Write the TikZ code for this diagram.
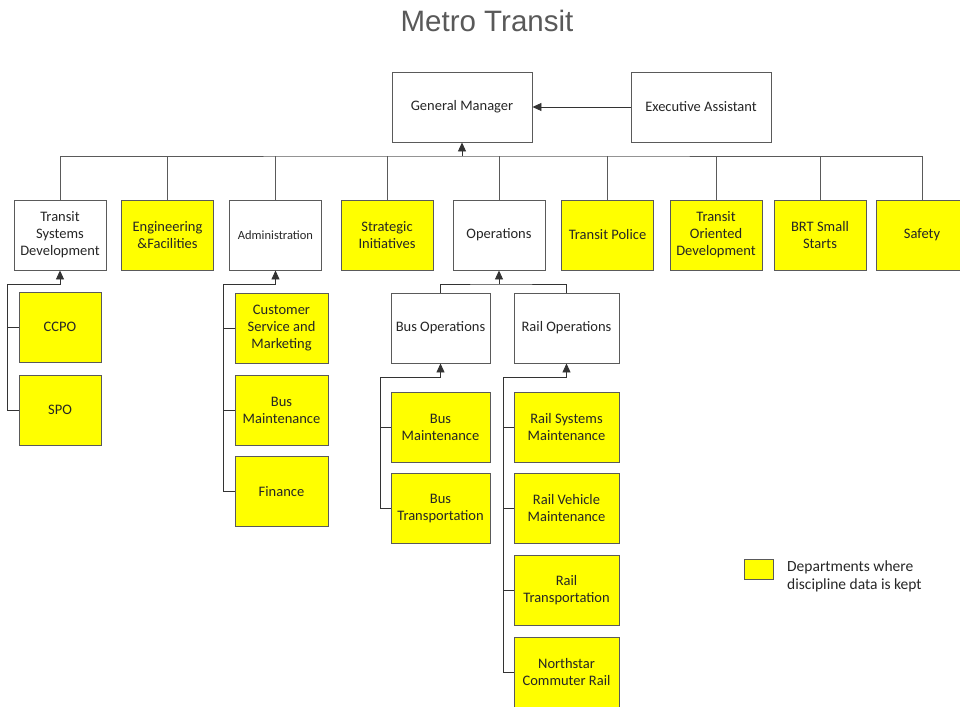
\documentclass[tikz,border=0pt]{standalone}
\usepackage{fontspec}
\setmainfont{Carlito}
\newfontfamily\titlefont{Liberation Sans}
\usetikzlibrary{arrows.meta}
\definecolor{ylw}{RGB}{255,255,0}
\definecolor{bord}{RGB}{90,90,90}
\definecolor{titlegray}{RGB}{89,89,89}
\tikzset{
  box/.style={draw=bord, line width=0.9pt, rectangle, align=center, inner sep=2pt, font=\fontsize{14.5}{17}\selectfont, text=black!85},
  wbox/.style={box, fill=white},
  ybox/.style={box, fill=ylw},
  lvl/.style={minimum width=92pt, minimum height=70pt},
  sub/.style={minimum width=99pt, minimum height=70pt},
  line/.style={draw=bord, line width=0.9pt},
  cline/.style={draw=black!80, line width=0.9pt},
  arr/.style={cline, -{Triangle[width=8pt,length=9pt]}}
}
\begin{document}
\begin{tikzpicture}[x=1pt,y=-1pt]
\useasboundingbox (0,0) rectangle (960,706);
\clip (0,0) rectangle (960,706);
\node[font=\titlefont\fontsize{29.5}{34}\selectfont, text=titlegray] (title) at (487,21) {Metro Transit};

\node[wbox, minimum width=140pt, minimum height=70pt] (gm) at (462,107) {General Manager};
\node[wbox, minimum width=140pt, minimum height=70pt] (ea) at (701,107) {Executive Assistant};
\draw[arr] (ea.west) -- (gm.east);

% level 2
\node[wbox, lvl] (tsd) at (60,235) {Transit\\Systems\\Development};
\node[ybox, lvl] (eng) at (167.5,235) {Engineering\\\&Facilities};
\node[wbox, lvl, font=\fontsize{12.5}{15}\selectfont] (adm) at (275.5,235) {Administration};
\node[ybox, lvl] (strat) at (387,235) {Strategic\\Initiatives};
\node[wbox, lvl] (ops) at (499,235) {Operations};
\node[ybox, lvl] (police) at (607.5,235) {Transit Police};
\node[ybox, lvl] (tod) at (716,235) {Transit\\Oriented\\Development};
\node[ybox, lvl] (brt) at (820,235) {BRT Small\\Starts};
\node[ybox, lvl] (safety) at (922,235) {Safety};

\coordinate (bus) at (462,156);
\draw[line] (tsd.north) |- (bus) -| (safety.north);
\foreach \n in {eng,adm,strat,ops,police,tod,brt}
  \draw[line] (\n.north) -- (\n.north |- bus);
\draw[arr] (bus) -- (gm.south);

% TSD children
\node[ybox, minimum width=82pt, minimum height=70pt] (ccpo) at (60,327) {CCPO};
\node[ybox, minimum width=82pt, minimum height=70pt] (spo) at (60,410) {SPO};
\coordinate (tsdj) at (7,284);
\draw[arr] (spo.west) -| (tsdj) -| (tsd.south);
\draw[cline] (ccpo.west) -- (ccpo.west -| tsdj);

% Admin children
\node[ybox, minimum width=93pt, minimum height=70pt] (csm) at (281.5,328) {Customer\\Service and\\Marketing};
\node[ybox, minimum width=93pt, minimum height=70pt] (abm) at (281.5,410) {Bus\\Maintenance};
\node[ybox, minimum width=93pt, minimum height=70pt] (fin) at (281.5,491.5) {Finance};
\coordinate (admj) at (223,284);
\draw[arr] (fin.west) -| (admj) -| (adm.south);
\draw[cline] (csm.west) -- (csm.west -| admj);
\draw[cline] (abm.west) -- (abm.west -| admj);

% Operations children
\node[wbox, sub] (busops) at (440.5,328) {Bus Operations};
\node[wbox, minimum width=105pt, minimum height=70pt] (railops) at (566.5,328) {Rail Operations};
\coordinate (opsj) at (499,284);
\draw[cline] (busops.north) |- (opsj) -| (railops.north);
\draw[arr] (opsj) -- (ops.south);

% Bus ops children
\node[ybox, sub] (bm) at (440.5,427) {Bus\\Maintenance};
\node[ybox, sub] (bt) at (440.5,508.5) {Bus\\Transportation};
\coordinate (busj) at (380,377);
\draw[arr] (bt.west) -| (busj) -| (busops.south);
\draw[cline] (bm.west) -- (bm.west -| busj);

% Rail ops children
\node[ybox, minimum width=105pt, minimum height=70pt] (rsm) at (566.5,427) {Rail Systems\\Maintenance};
\node[ybox, minimum width=105pt, minimum height=70pt] (rvm) at (566.5,508.5) {Rail Vehicle\\Maintenance};
\node[ybox, minimum width=105pt, minimum height=70pt] (rt) at (566.5,590.5) {Rail\\Transportation};
\node[ybox, minimum width=105pt, minimum height=70pt] (ns) at (566.5,672) {Northstar\\Commuter Rail};
\coordinate (railj) at (503,377);
\draw[arr] (ns.west) -| (railj) -| (railops.south);
\foreach \n in {rsm,rvm,rt}
  \draw[cline] (\n.west) -- (\n.west -| railj);

% legend
\node[ybox, minimum width=29pt, minimum height=20pt, inner sep=0pt] (leg) at (758.5,569) {};
\node[anchor=north west, align=left, inner sep=0pt, font=\fontsize{15.5}{18}\selectfont, text=black!85] (legtext) at (787,561) {Departments where\\discipline data is kept};
\end{tikzpicture}
\end{document}
